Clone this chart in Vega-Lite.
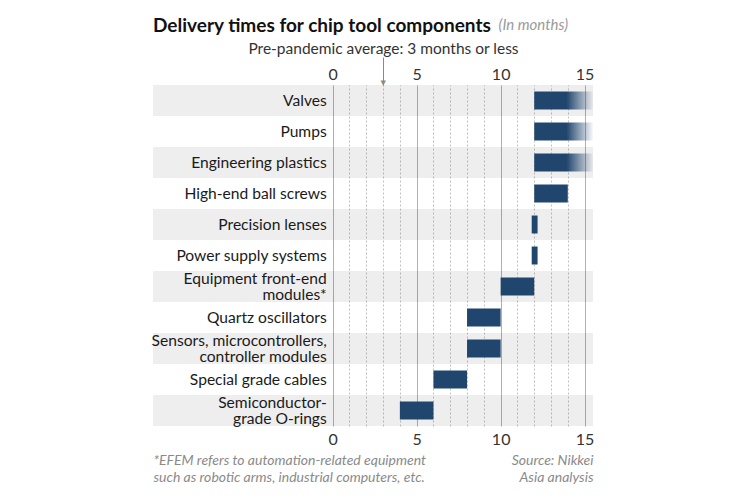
{
  "$schema": "https://vega.github.io/schema/vega-lite/v6.json",
  "width": 440,
  "height": 341,
  "autosize": {"type": "none"},
  "padding": {"left": 153, "top": 85, "right": 157, "bottom": 74},
  "background": "white",
  "config": {"view": {"stroke": null}, "font": "Lato"},
  "title": {
    "text": "Delivery times for chip tool components",
    "anchor": "start",
    "frame": "group",
    "font": "Lato",
    "fontSize": 19,
    "fontWeight": "bold",
    "color": "#111111",
    "offset": -16,
    "dy": 3
  },
  "data": {
    "values": [
      {"component": "Valves", "start": 12, "end": 15.5, "open_ended": true},
      {"component": "Pumps", "start": 12, "end": 15.5, "open_ended": true},
      {"component": "Engineering plastics", "start": 12, "end": 15.5, "open_ended": true},
      {"component": "High-end ball screws", "start": 12, "end": 14, "open_ended": false},
      {"component": "Precision lenses", "start": 11.85, "end": 12.2, "open_ended": false},
      {"component": "Power supply systems", "start": 11.85, "end": 12.2, "open_ended": false},
      {"component": "Equipment front-end\nmodules*", "start": 10, "end": 12, "open_ended": false},
      {"component": "Quartz oscillators", "start": 8, "end": 10, "open_ended": false},
      {"component": "Sensors, microcontrollers,\ncontroller modules", "start": 8, "end": 10, "open_ended": false},
      {"component": "Special grade cables", "start": 6, "end": 8, "open_ended": false},
      {"component": "Semiconductor-\ngrade O-rings", "start": 4, "end": 6, "open_ended": false}
    ]
  },
  "layer": [
    {
      "transform": [
        {"window": [{"op": "row_number", "as": "idx"}]},
        {"filter": "datum.idx % 2 === 1"}
      ],
      "mark": {"type": "bar", "color": "black", "opacity": 0.065},
      "encoding": {
        "y": {
          "field": "component",
          "type": "nominal",
          "scale": {
            "domain": ["Valves", "Pumps", "Engineering plastics", "High-end ball screws", "Precision lenses", "Power supply systems", "Equipment front-end\nmodules*", "Quartz oscillators", "Sensors, microcontrollers,\ncontroller modules", "Special grade cables", "Semiconductor-\ngrade O-rings"],
            "paddingInner": 0,
            "paddingOuter": 0
          },
          "axis": {
            "orient": "left",
            "labels": false,
            "ticks": false,
            "domain": false,
            "grid": false,
            "title": "(In months)",
            "titleAngle": 0,
            "titleAlign": "left",
            "titleBaseline": "alphabetic",
            "titleX": 345,
            "titleY": -56,
            "titleFontSize": 15,
            "titleFontStyle": "italic",
            "titleFontWeight": "normal",
            "titleColor": "#9a9a9a"
          }
        },
        "x": {
          "datum": -10.7,
          "type": "quantitative",
          "scale": {"domain": [-10.7, 15.5], "nice": false, "zero": false},
          "axis": {
            "orient": "bottom",
            "values": [0, 1, 2, 3, 4, 5, 6, 7, 8, 9, 10, 11, 12, 13, 14, 15],
            "labelExpr": "datum.value % 5 === 0 ? datum.label : ''",
            "labelFlush": false,
            "labelOverlap": false,
            "labelFontSize": 16,
            "labelColor": "#333333",
            "labelPadding": 5,
            "ticks": false,
            "domain": false,
            "grid": true,
            "gridColor": {"condition": {"test": "datum.value % 5 === 0", "value": "#b0b0b0"}, "value": "#c2c2c2"},
            "gridWidth": 1,
            "gridDash": {"condition": {"test": "datum.value % 5 === 0", "value": []}, "value": [2, 2]},
            "title": ["*EFEM refers to automation-related equipment", "such as robotic arms, industrial computers, etc."],
            "titleFontSize": 14,
            "titleFontStyle": "italic",
            "titleFontWeight": "normal",
            "titleColor": "#8a8a8a",
            "titleAlign": "left",
            "titleAnchor": "start",
            "titleBaseline": "alphabetic",
            "titleLineHeight": 17,
            "titleX": 0,
            "titleY": 38
          }
        },
        "x2": {"datum": 15.5}
      }
    },
    {
      "transform": [{"filter": "!datum.open_ended"}],
      "mark": {"type": "bar", "color": "#21466e", "height": {"band": 0.58}},
      "encoding": {
        "y": {"field": "component", "type": "nominal", "axis": null},
        "x": {
          "field": "start",
          "type": "quantitative",
          "axis": {
            "orient": "top",
            "values": [0, 3, 5, 10, 15],
            "labelExpr": "datum.value === 3 ? '' : datum.label",
            "labelFlush": false,
            "labelOverlap": false,
            "labelFontSize": 16,
            "labelColor": "#333333",
            "labelPadding": -25,
            "ticks": true,
            "tickSize": 28,
            "tickColor": "#8a8a8a",
            "tickOpacity": {"condition": {"test": "datum.value === 3", "value": 1}, "value": 0},
            "domain": false,
            "grid": false,
            "title": "Pre-pandemic average: 3 months or less",
            "titleFontSize": 15.5,
            "titleFontWeight": "normal",
            "titleColor": "#333333",
            "titleAlign": "center",
            "titleBaseline": "alphabetic",
            "titleX": 230,
            "titleY": -32
          }
        },
        "x2": {"field": "end"}
      }
    },
    {
      "transform": [{"filter": "datum.open_ended"}],
      "mark": {
        "type": "bar",
        "height": {"band": 0.58},
        "fill": {
          "gradient": "linear",
          "x1": 0, "x2": 1, "y1": 0, "y2": 0,
          "stops": [
            {"offset": 0, "color": "#21466e"},
            {"offset": 0.55, "color": "#21466e"},
            {"offset": 0.8, "color": "rgba(33,70,110,0.45)"},
            {"offset": 1, "color": "rgba(33,70,110,0.03)"}
          ]
        }
      },
      "encoding": {
        "y": {"field": "component", "type": "nominal", "axis": null},
        "x": {"field": "start", "type": "quantitative", "axis": null},
        "x2": {"field": "end"}
      }
    },
    {
      "data": {"values": [{"pre_pandemic_average": 3}]},
      "mark": {"type": "text", "text": "▼", "align": "center", "baseline": "bottom", "fontSize": 7, "font": "DejaVu Sans", "color": "#8a8a8a", "dy": 1},
      "encoding": {
        "x": {"field": "pre_pandemic_average", "type": "quantitative", "axis": null},
        "y": {"datum": "Valves", "type": "nominal", "bandPosition": 0, "axis": null}
      }
    },
    {
      "transform": [{"filter": "indexof(datum.component, '\\n') < 0"}],
      "mark": {
        "type": "text",
        "align": "right",
        "baseline": "middle",
        "dx": -6,
        "fontSize": 15.6,
        "color": "#1a1a1a"
      },
      "encoding": {
        "x": {"datum": 0, "type": "quantitative", "axis": null},
        "text": {"field": "component"},
        "y": {
          "field": "component",
          "type": "nominal",
          "axis": {
            "orient": "right",
            "labels": false,
            "ticks": false,
            "domain": false,
            "grid": false,
            "title": ["Source: Nikkei", "Asia analysis"],
            "titleAngle": 0,
            "titleAlign": "right",
            "titleBaseline": "alphabetic",
            "titleX": 0,
            "titleY": 379,
            "titleFontSize": 14,
            "titleFontStyle": "italic",
            "titleFontWeight": "normal",
            "titleColor": "#8a8a8a",
            "titleLineHeight": 17
          }
        }
      }
    },
    {
      "transform": [{"filter": "indexof(datum.component, '\\n') >= 0"}],
      "mark": {
        "type": "text",
        "align": "right",
        "baseline": "middle",
        "dx": -6,
        "dy": -8,
        "fontSize": 15.6,
        "color": "#1a1a1a",
        "lineBreak": "\n",
        "lineHeight": 16
      },
      "encoding": {
        "x": {"datum": 0, "type": "quantitative", "axis": null},
        "text": {"field": "component"},
        "y": {"field": "component", "type": "nominal", "axis": null}
      }
    }
  ]
}
